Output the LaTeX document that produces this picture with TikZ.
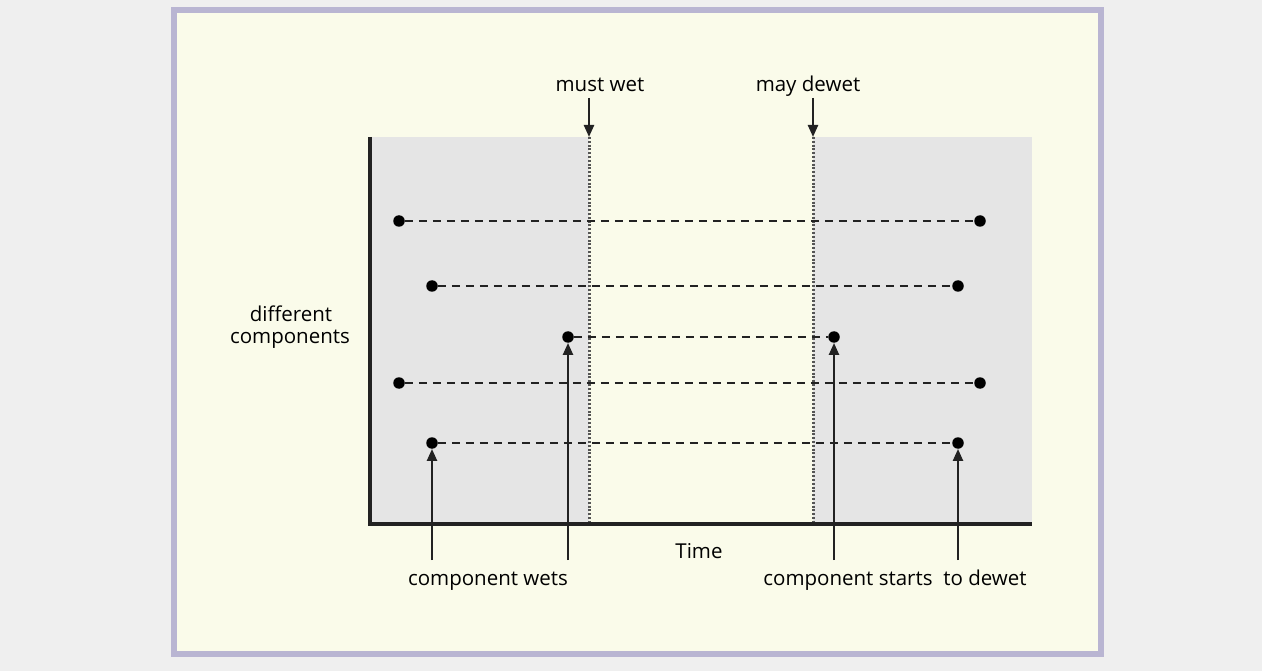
\documentclass[tikz,border=0pt]{standalone}
\usepackage{fontspec}
\setmainfont{Open Sans}
\usetikzlibrary{arrows.meta}
\definecolor{bgc}{HTML}{EFEFEF}
\definecolor{panel}{HTML}{FAFBEA}
\definecolor{frame}{HTML}{B9B5D2}
\definecolor{plotg}{HTML}{E5E5E5}
\definecolor{ink}{HTML}{222222}
\definecolor{dotink}{HTML}{555555}
\tikzset{
  dot/.style={circle,fill=black,inner sep=0pt,minimum size=11.5pt},
  comp/.style={ink,line width=2.8pt,dash pattern=on 8pt off 6pt},
  limit/.style={dotink,line width=3pt,dash pattern=on 2pt off 1.8pt},
  pointer/.style={ink,line width=2.3pt,-{Triangle[length=12pt,width=10pt]}},
  lbl/.style={font=\fontsize{20.5}{24}\selectfont,text=black,inner sep=0pt,anchor=base},
  axis/.style={ink,line width=3.5pt}
}
\begin{document}
\begin{tikzpicture}[x=1pt,y=-1pt]
\useasboundingbox (0,0) rectangle (1262,671);
\fill[bgc] (0,0) rectangle (1262,671);
\draw[frame,fill=panel,line width=5.5pt] (174,10) rectangle (1101,654);
% shaded regions
\fill[plotg] (370,137) rectangle (589,524);
\fill[plotg] (813,137) rectangle (1032,524);
% limits
\coordinate (mw) at (589,137);
\coordinate (md) at (813,137);
\draw[limit] (mw) -- (589,524);
\draw[limit] (md) -- (813,524);
% axes
\draw[axis] (370,137) -- (370,524) -- (1032,524);
% labels top
\node[lbl] (mustwet) at (600,92) {must wet};
\node[lbl] (maydewet) at (808,92) {may dewet};
\coordinate (t1) at (589,98);
\coordinate (t2) at (813,98);
\draw[pointer] (t1) -- (mw);
\draw[pointer] (t2) -- (md);
% rows
\node[dot] (a1) at (399,221) {};
\node[dot] (a2) at (980,221) {};
\node[dot] (b1) at (432,286) {};
\node[dot] (b2) at (958,286) {};
\node[dot] (c1) at (568,337) {};
\node[dot] (c2) at (834,337) {};
\node[dot] (d1) at (399,383) {};
\node[dot] (d2) at (980,383) {};
\node[dot] (e1) at (432,443) {};
\node[dot] (e2) at (958,443) {};
\draw[comp] (a1) -- (a2);
\draw[comp] (b1) -- (b2);
\draw[comp] (c1) -- (c2);
\draw[comp] (d1) -- (d2);
\draw[comp] (e1) -- (e2);
% axis labels
\node[lbl] (time) at (699,558) {Time};
\node[lbl] (diff1) at (291,322) {different};
\node[lbl] (diff2) at (290,343) {components};
% bottom labels
\node[lbl] (wets) at (488,585) {component wets};
\node[lbl] (starts) at (848,585) {component starts};
\node[lbl] (dewet) at (985,585) {to dewet};
\coordinate (p1) at (432,560);
\coordinate (p2) at (568,560);
\coordinate (p3) at (834,560);
\coordinate (p4) at (958,560);
\draw[pointer] (p1) -- (e1.south);
\draw[pointer] (p2) -- (c1.south);
\draw[pointer] (p3) -- (c2.south);
\draw[pointer] (p4) -- (e2.south);
\end{tikzpicture}
\end{document}
